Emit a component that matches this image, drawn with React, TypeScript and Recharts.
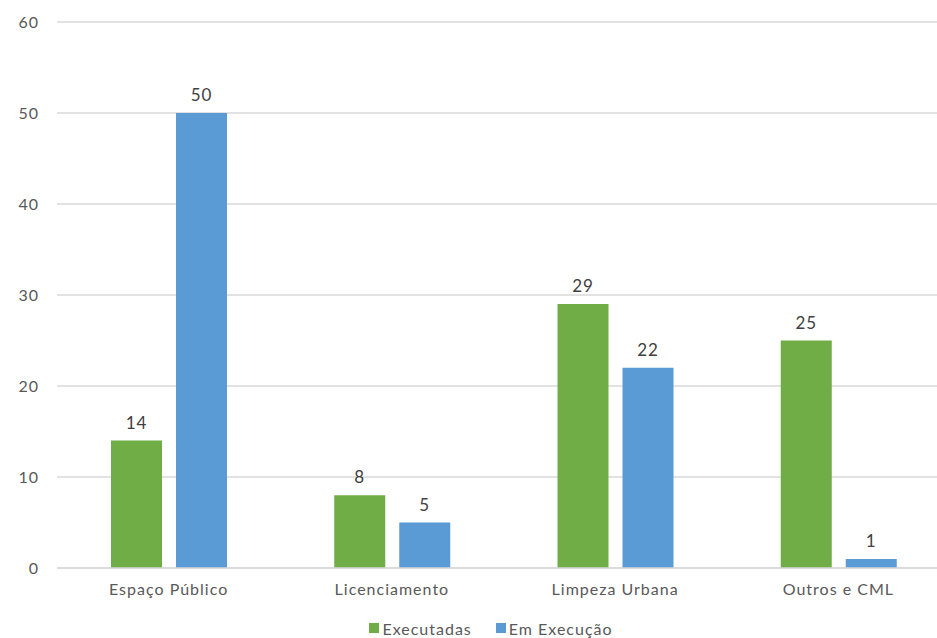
import React from 'react';
import { BarChart, Bar, XAxis, YAxis, CartesianGrid, Legend, LabelList } from 'recharts';

const categories = ['Espaço Público', 'Licenciamento', 'Limpeza Urbana', 'Outros e CML'];
const executadas = [14, 8, 29, 25];
const emExecucao = [50, 5, 22, 1];
const yTicks = [0, 10, 20, 30, 40, 50, 60];

const data = categories.map((name, i) => ({
  name,
  executadas: executadas[i],
  emExecucao: emExecucao[i],
}));

const FONT = 'Lato, "Noto Sans", sans-serif';
const GREEN = '#70AD47';
const BLUE = '#5B9BD5';
const TEXT = '#595959';

const LegendContent = () => (
  <div
    style={{
      display: 'flex',
      justifyContent: 'center',
      gap: 24,
      fontFamily: FONT,
      fontSize: 16,
      letterSpacing: 1,
      color: TEXT,
      paddingLeft: 32,
      paddingTop: 10,
      height: 30,
      boxSizing: 'border-box',
      alignItems: 'center',
    }}
  >
    {[
      { label: 'Executadas', color: GREEN },
      { label: 'Em Execução', color: BLUE },
    ].map((item) => (
      <span key={item.label} style={{ display: 'flex', alignItems: 'center', gap: 3 }}>
        <span style={{ width: 10, height: 10, background: item.color, display: 'inline-block' }} />
        {item.label}
      </span>
    ))}
  </div>
);

const tickStyle = { fill: TEXT, fontSize: 16, fontFamily: FONT, letterSpacing: 1 };
const labelStyle = { fill: '#404040', fontSize: 17, fontFamily: FONT, letterSpacing: 1 };

export default function App() {
  return (
    <div
      style={{
        position: 'absolute',
        left: 0,
        top: 0,
        width: 937,
        height: 638,
        overflow: 'hidden',
        background: '#fff',
      }}
    >
      <BarChart
        width={950}
        height={638}
        data={data}
        margin={{ top: 22, right: 0, bottom: 0, left: 0 }}
        barGap={14}
      >
        <CartesianGrid vertical={false} stroke="#d9d9d9" strokeWidth={1.5} />
        <XAxis
          dataKey="name"
          height={40}
          tickLine={false}
          axisLine={{ stroke: '#d9d9d9', strokeWidth: 1.5 }}
          tick={tickStyle}
          tickMargin={10}
        />
        <YAxis
          width={57}
          domain={[0, 60]}
          ticks={yTicks}
          axisLine={false}
          tickLine={false}
          tickMargin={12}
          tick={tickStyle}
        />
        <Legend verticalAlign="bottom" height={30} content={<LegendContent />} />
        <Bar dataKey="executadas" name="Executadas" fill={GREEN} barSize={51} isAnimationActive={false}>
          <LabelList dataKey="executadas" position="top" offset={12} style={labelStyle} />
        </Bar>
        <Bar dataKey="emExecucao" name="Em Execução" fill={BLUE} barSize={51} isAnimationActive={false}>
          <LabelList dataKey="emExecucao" position="top" offset={12} style={labelStyle} />
        </Bar>
      </BarChart>
    </div>
  );
}
